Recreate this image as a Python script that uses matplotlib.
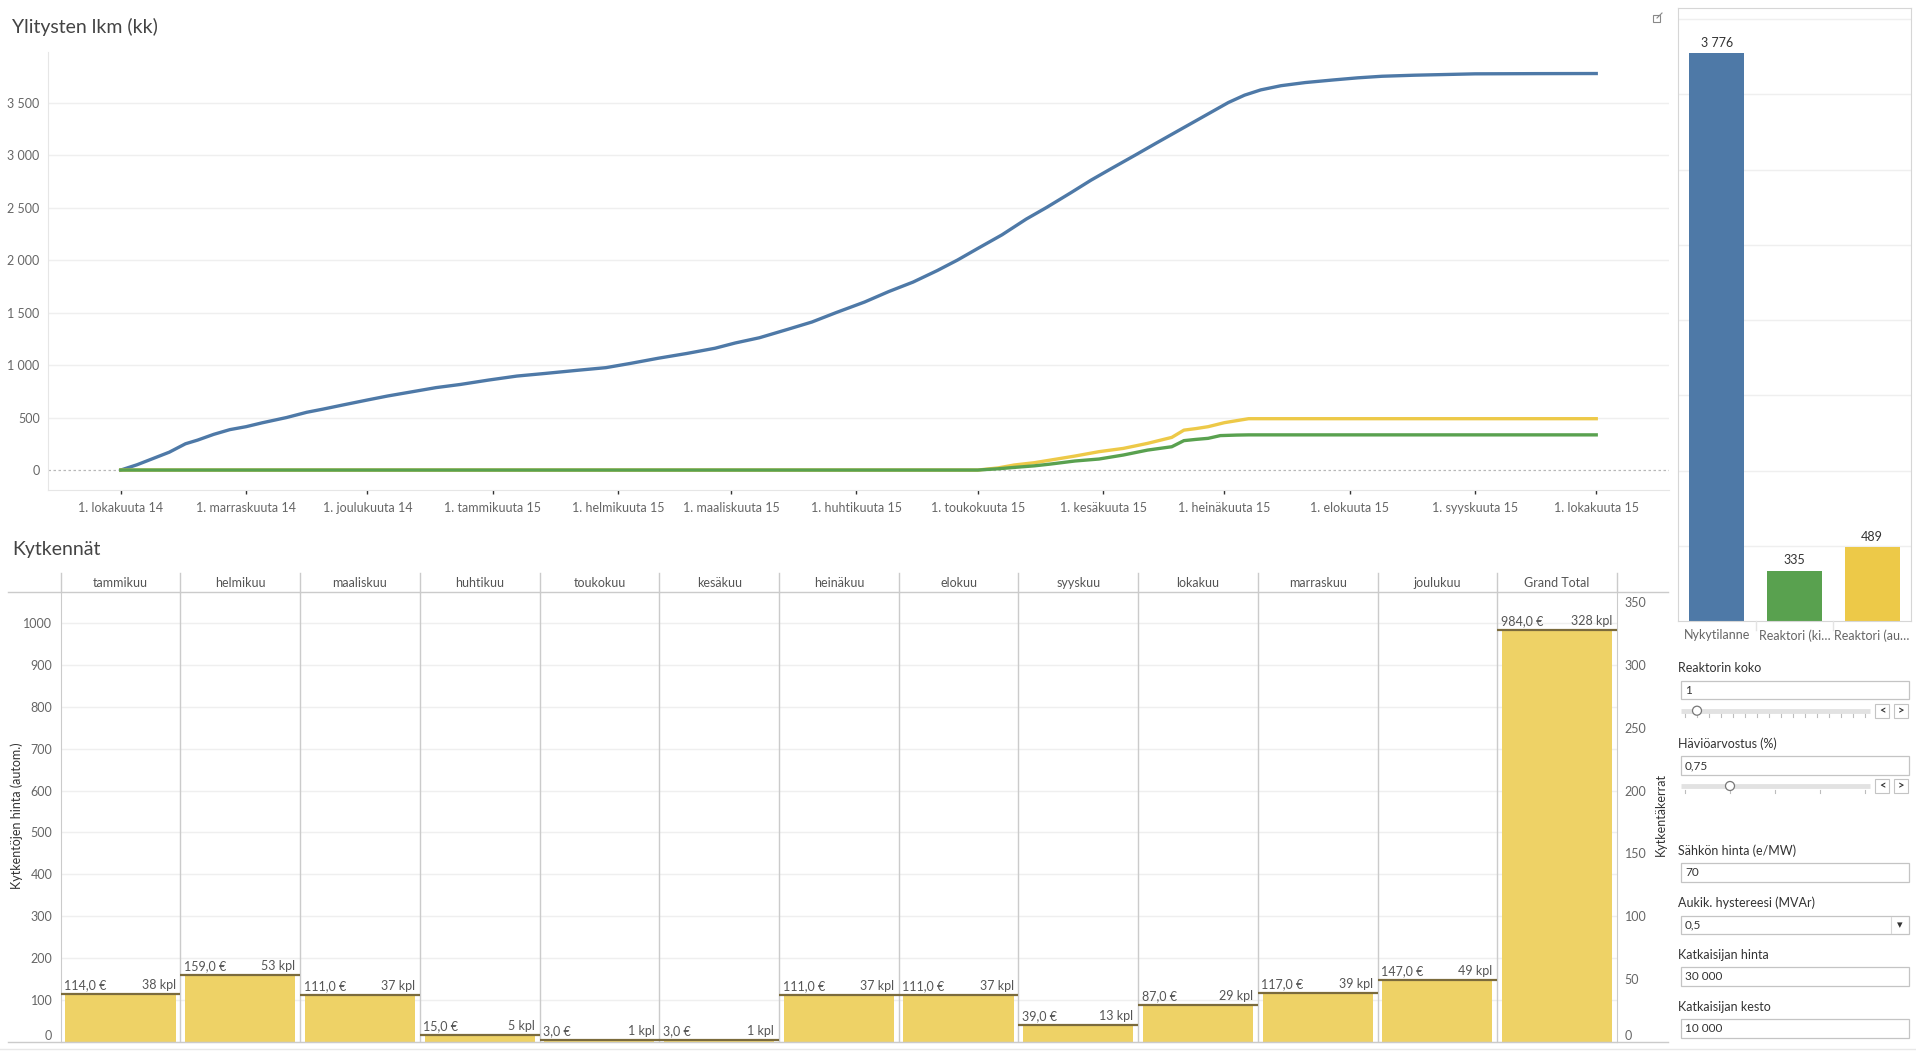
import datetime as dt
import matplotlib
matplotlib.use("Agg")
import matplotlib.pyplot as plt
from matplotlib.patches import Rectangle, Circle

plt.rcParams['font.family'] = ['Lato', 'DejaVu Sans']

W, H = 1916, 1051

#%% DATA
# cumulative exceedances, days counted from 1.10.2014
start_date = dt.date(2014, 10, 1)
blue_day = [0, 4, 8, 12, 16, 19, 23, 27, 31, 35, 41, 46, 50, 55, 61, 66, 72, 78, 84, 91,
            98, 105, 113, 120, 126, 133, 140, 147, 152, 158, 165, 171, 177, 184, 190, 196,
            202, 207, 212, 218, 224, 229, 235, 240, 245, 251, 256, 262, 268, 274, 278, 282,
            287, 293, 300, 306, 312, 320, 327, 335, 350, 365]
blue_val = [0, 50, 110, 170, 250, 285, 340, 385, 413, 450, 500, 550, 580, 620, 667, 705, 745,
            785, 815, 857, 895, 920, 950, 975, 1015, 1065, 1110, 1160, 1210, 1260, 1340, 1410,
            1500, 1600, 1700, 1790, 1900, 2000, 2110, 2240, 2390, 2500, 2640, 2760, 2870, 3000,
            3110, 3240, 3370, 3500, 3570, 3620, 3660, 3690, 3715, 3735, 3750, 3760, 3766, 3773,
            3775, 3776]
green_day = [0, 212, 217, 221, 226, 230, 236, 242, 248, 254, 260, 263, 266, 269, 272, 276, 279, 365]
green_val = [0, 0, 12, 25, 40, 57, 86, 105, 143, 190, 222, 280, 292, 302, 328, 333, 335, 335]
yellow_day = [0, 212, 217, 221, 226, 230, 236, 242, 248, 254, 260, 263, 266, 269, 273, 276, 279, 365]
yellow_val = [0, 0, 20, 48, 70, 95, 133, 175, 206, 254, 311, 380, 395, 413, 451, 470, 489, 489]

top_tick_dates = [dt.date(2014, m, 1) for m in (10, 11, 12)] + \
                 [dt.date(2015, m, 1) for m in range(1, 11)]
top_tick_labels = ["1. lokakuuta 14", "1. marraskuuta 14", "1. joulukuuta 14",
                   "1. tammikuuta 15", "1. helmikuuta 15", "1. maaliskuuta 15",
                   "1. huhtikuuta 15", "1. toukokuuta 15", "1. kesäkuuta 15",
                   "1. heinäkuuta 15", "1. elokuuta 15", "1. syyskuuta 15", "1. lokakuuta 15"]

# totals per scenario
summary_cats = ["Nykytilanne", "Reaktori (ki\u2026", "Reaktori (au\u2026"]
summary_vals = [3776, 335, 489]
summary_colors = ["#4e79a7", "#59a14f", "#edc948"]

# monthly switchings
months = ["tammikuu", "helmikuu", "maaliskuu", "huhtikuu", "toukokuu", "kesäkuu",
          "heinäkuu", "elokuu", "syyskuu", "lokakuu", "marraskuu", "joulukuu", "Grand Total"]
cost_eur = [114, 159, 111, 15, 3, 3, 111, 111, 39, 87, 117, 147, 984]
count_kpl = [38, 53, 37, 5, 1, 1, 37, 37, 13, 29, 39, 49, 328]

# parameter controls
param_labels = ["Reaktorin koko", "Häviöarvostus (%)", "Sähkön hinta (e/MW)",
                "Aukik. hystereesi (MVAr)", "Katkaisijan hinta", "Katkaisijan kesto"]
param_values = ["1", "0,75", "70", "0,5", "30 000", "10 000"]

GRID = "#efefef"
SEP = "#cbcbcb"
TICK = "#666666"


def px_axes(fig, x0, y0, x1, y1):
    return fig.add_axes([x0 / W, 1 - y1 / H, (x1 - x0) / W, (y1 - y0) / H])


def thousands(v):
    return f"{v:,}".replace(",", " ")


fig = plt.figure(figsize=(W / 100, H / 100), dpi=100)
fig.patch.set_facecolor("white")

#%% TOP LINE CHART
ax = px_axes(fig, 48, 52, 1669, 490)
to_dates = lambda days: [start_date + dt.timedelta(days=d) for d in days]
for v in range(500, 4000, 500):
    ax.axhline(v, color=GRID, lw=1, zorder=0)
ax.axhline(0, color="#b8b8b8", lw=0.9, ls=(0, (2, 2)), zorder=1)
ax.plot(to_dates(blue_day), blue_val, color="#4e79a7", lw=2.4, zorder=3)
ax.plot(to_dates(yellow_day), yellow_val, color="#edc948", lw=2.4, zorder=3)
ax.plot(to_dates(green_day), green_val, color="#59a14f", lw=2.4, zorder=4)
ax.set_xlim(start_date - dt.timedelta(days=18.3), start_date + dt.timedelta(days=383.3))
ax.set_ylim(-190, 3981)
ax.set_yticks(range(0, 4000, 500))
ax.set_yticklabels([thousands(v) for v in range(0, 4000, 500)])
ax.set_xticks(top_tick_dates)
ax.set_xticklabels(top_tick_labels)
ax.tick_params(axis="y", length=0, pad=6, labelcolor=TICK, labelsize=9)
ax.tick_params(axis="x", length=3, width=1, color="#333333", pad=6, labelcolor=TICK, labelsize=9)
for s in ("top", "right"):
    ax.spines[s].set_visible(False)
for s in ("left", "bottom"):
    ax.spines[s].set_color("#e6e6e6")

#%% SUMMARY BARS
axb = px_axes(fig, 1678, 8, 1911, 621)
for v in range(500, 4001, 500):
    axb.axhline(v, color=GRID, lw=1, zorder=0)
xs = list(range(len(summary_vals)))
axb.bar(xs, summary_vals, width=0.71, color=summary_colors, zorder=2)
for x, v in zip(xs, summary_vals):
    axb.annotate(thousands(v), (x, v), xytext=(0, 3), textcoords="offset points",
                 ha="center", va="bottom", fontsize=9, color="#333333")
axb.set_xlim(-0.5, 2.5)
axb.set_ylim(0, 4075)
axb.set_yticks([])
axb.set_xticks(xs)
axb.set_xticklabels(summary_cats)
axb.tick_params(axis="x", length=0, pad=6, labelcolor=TICK, labelsize=9)
for s in axb.spines.values():
    s.set_color("#d6d6d6")

#%% MONTHLY SWITCHINGS
axc = px_axes(fig, 60.7, 592, 1617, 1041.5)
for v in range(100, 1001, 100):
    axc.axhline(v, color=GRID, lw=1, zorder=0)
for i in range(1, len(months)):
    axc.axvline(i, color=SEP, lw=1, zorder=1)
idx = list(range(len(months)))
axc.bar([i + 0.5 for i in idx], cost_eur, width=0.92, color="#eed266", zorder=2)
for i, v in zip(idx, cost_eur):
    axc.annotate(f"{v},0 €", (i + 0.03, v), xytext=(0, 2), textcoords="offset points",
                 ha="left", va="bottom", fontsize=9, color="#555555")
axc.set_xlim(0, len(months))
axc.set_ylim(0, 1075)
axc.set_xticks([])
axc.set_yticks(range(0, 1001, 100))
axc.tick_params(axis="y", length=0, pad=6, labelcolor=TICK, labelsize=9)
axc.get_yticklabels()[0].set_verticalalignment("bottom")
axc.spines["top"].set_visible(False)
for s in ("left", "right", "bottom"):
    axc.spines[s].set_color(SEP)

axk = axc.twinx()
axk.hlines(count_kpl, [i for i in idx], [i + 1 for i in idx], color="#7b6b3c", lw=1.6, zorder=4)
for i, v in zip(idx, count_kpl):
    axk.annotate(f"{v} kpl", (i + 0.96, v), xytext=(0, 2), textcoords="offset points",
                 ha="right", va="bottom", fontsize=9, color="#555555")
axk.set_ylim(0, 1075 / 3)
axk.set_yticks(range(0, 351, 50))
axk.tick_params(axis="y", length=0, pad=5.5, labelcolor=TICK, labelsize=9)
axk.get_yticklabels()[0].set_verticalalignment("bottom")
for s in axk.spines.values():
    s.set_visible(False)

#%% CANVAS: titles, headers, controls
cv = fig.add_axes([0, 0, 1, 1])
cv.set_xlim(0, W)
cv.set_ylim(H, 0)
cv.axis("off")
cv.patch.set_visible(False)

cv.text(12, 27, "Ylitysten lkm (kk)", fontsize=14, color="#444444", va="center", ha="left")
cv.text(12, 549, "Kytkennät", fontsize=14, color="#444444", va="center", ha="left")

# external link icon
cv.add_patch(Rectangle((1653, 15), 7, 7, fill=False, ec="#888888", lw=0.8))
cv.plot([1657, 1662], [18, 13], color="#888888", lw=0.8)

# column header of the monthly chart
col_w = (1617 - 60.7) / len(months)
for i, m in enumerate(months):
    cv.text(60.7 + (i + 0.5) * col_w, 583, m, fontsize=9, color="#555555", ha="center", va="center")
for i in range(len(months) + 1):
    cv.plot([60.7 + i * col_w] * 2, [572.5, 592], color=SEP, lw=1)
cv.plot([8, 1668], [592, 592], color=SEP, lw=1)
cv.plot([8, 1668], [1041.5, 1041.5], color=SEP, lw=1)
cv.plot([0, 1916], [1049, 1049], color="#e8e8e8", lw=1)
cv.text(17, 816, "Kytkentöjen hinta (autom.)", rotation=90, fontsize=9, color="#333333",
        ha="center", va="center")
cv.text(1661, 815, "Kytkentäkerrat", rotation=90, fontsize=9, color="#333333",
        ha="center", va="center")

# small separators under summary bars
for x in (1755.7, 1833.3):
    cv.plot([x, x], [621, 630], color="#e4e4e4", lw=1)

# parameter controls
label_y = [668, 744, 851, 903, 955, 1007]
box_y = [(681, 699), (756, 775), (863, 882), (916, 934), (967, 986), (1019, 1038)]
for lab, ly, (y0, y1), val in zip(param_labels, label_y, box_y, param_values):
    cv.text(1678, ly, lab, fontsize=9, color="#333333", ha="left", va="center")
    cv.add_patch(Rectangle((1681, y0), 228, y1 - y0, fc="white", ec="#c4c4c4", lw=0.9))
    cv.text(1685, (y0 + y1) / 2, val, fontsize=8.5, color="#333333", ha="left", va="center")

# dropdown arrow
cv.plot([1891, 1891], [917, 933], color="#d8d8d8", lw=0.8)
cv.text(1900, 925, "\u25be", fontsize=8, color="#333333", ha="center", va="center")

# sliders
for sy, cx, nticks in ((710.7, 1697, 16), (786, 1730, 5)):
    cv.plot([1681, 1870], [sy, sy], color="#e2e2e2", lw=3.5, solid_capstyle="butt")
    step = (1865 - 1685) / (nticks - 1)
    for k in range(nticks):
        tx = 1685 + k * step
        cv.plot([tx, tx], [sy + 3.5, sy + 6.5], color="#bdbdbd", lw=0.8)
    cv.add_patch(Circle((cx, sy), 4.5, fc="white", ec="#777777", lw=0.9, zorder=5))
    for bx, ch in ((1875, "<"), (1894, ">")):
        cv.add_patch(Rectangle((bx, sy - 7), 14, 14, fc="white", ec="#c4c4c4", lw=0.8))
        cv.text(bx + 7, sy, ch, fontsize=8, fontweight="bold", color="#333333",
                ha="center", va="center")

fig.savefig("out.png", dpi=100, facecolor="white")
